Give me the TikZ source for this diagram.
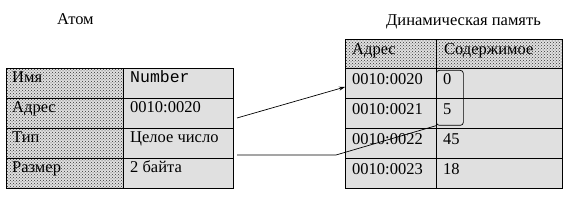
\documentclass[tikz,border=0pt]{standalone}
\usepackage{fontspec}
\setmainfont{Liberation Serif}
\setmonofont{Liberation Mono}
\usetikzlibrary{patterns,calc,arrows.meta}
\definecolor{cellgray}{RGB}{224,224,224}
\tikzset{
  cell/.style={draw=black, line width=0.8pt, fill=cellgray, inner sep=0pt, anchor=north west},
  hcell/.style={draw=black, line width=0.8pt, preaction={fill=cellgray}, pattern=crosshatch dots, pattern color=black!80, inner sep=0pt, anchor=north west},
  txt/.style={anchor=base west, inner sep=0pt, font=\fontsize{16.5}{19}\selectfont},
  ttl/.style={anchor=base west, inner sep=0pt, font=\fontsize{16.5}{19}\selectfont},
  conn/.style={line width=0.7pt, black},
  grpbox/.style={draw=black, line width=0.7pt, rounded corners=3pt, inner sep=0pt, minimum width=27pt, minimum height=55pt, anchor=north west}
}
\begin{document}
\begin{tikzpicture}[x=1pt,y=-1pt]
\useasboundingbox (0,0) rectangle (568,200);
% titles
\node[ttl] (t1) at (57,25) {Атом};
\node[ttl] (t2) at (386,26) {Динамическая память};
% left table
\foreach \i/\a/\b in {0/Имя/{\ttfamily Number},1/Адрес/0010:0020,2/Тип/Целое число,3/Размер/2 байта}{
  \node[hcell, minimum width=117pt, minimum height=30pt] (la\i) at (6,68+30*\i) {};
  \node[cell, minimum width=110pt, minimum height=30pt] (lb\i) at (123,68+30*\i) {};
  \node[txt] (lta\i) at ($(la\i.north west)+(6,15)$) {\a};
  \node[txt] (ltb\i) at ($(lb\i.north west)+(7,15)$) {\b};
}
% right table header
\node[hcell, minimum width=91pt, minimum height=29pt] (rh0) at (345,39) {};
\node[hcell, minimum width=126pt, minimum height=29pt] (rh1) at (436,39) {};
\node[txt] (rht0) at ($(rh0.north west)+(7,16)$) {Адрес};
\node[txt] (rht1) at ($(rh1.north west)+(8,16)$) {Содержимое};
% right table rows
\foreach \i/\a/\b in {0/0010:0020/0,1/0010:0021/5,2/0010:0022/45,3/0010:0023/18}{
  \node[cell, minimum width=91pt, minimum height=30pt] (ra\i) at (345,68+30*\i) {};
  \node[cell, minimum width=126pt, minimum height=30pt] (rb\i) at (436,68+30*\i) {};
  \node[txt] (rta\i) at ($(ra\i.north west)+(7,17)$) {\a};
  \node[txt] (rtb\i) at ($(rb\i.north west)+(7,17)$) {\b};
}
% grouping box
\node[grpbox] (grp) at (436,70) {};
% connectors
\coordinate (s1) at (237,118);
\coordinate (s2) at (237,155);
\coordinate (k2) at (336,155);
\draw[conn, -{Stealth[length=6pt,width=4pt]}] (s1) -- ($(ra0.north west)+(0,19)$);
\draw[conn] (s2) -- (k2) -- (grp.south west);
\end{tikzpicture}
\end{document}
